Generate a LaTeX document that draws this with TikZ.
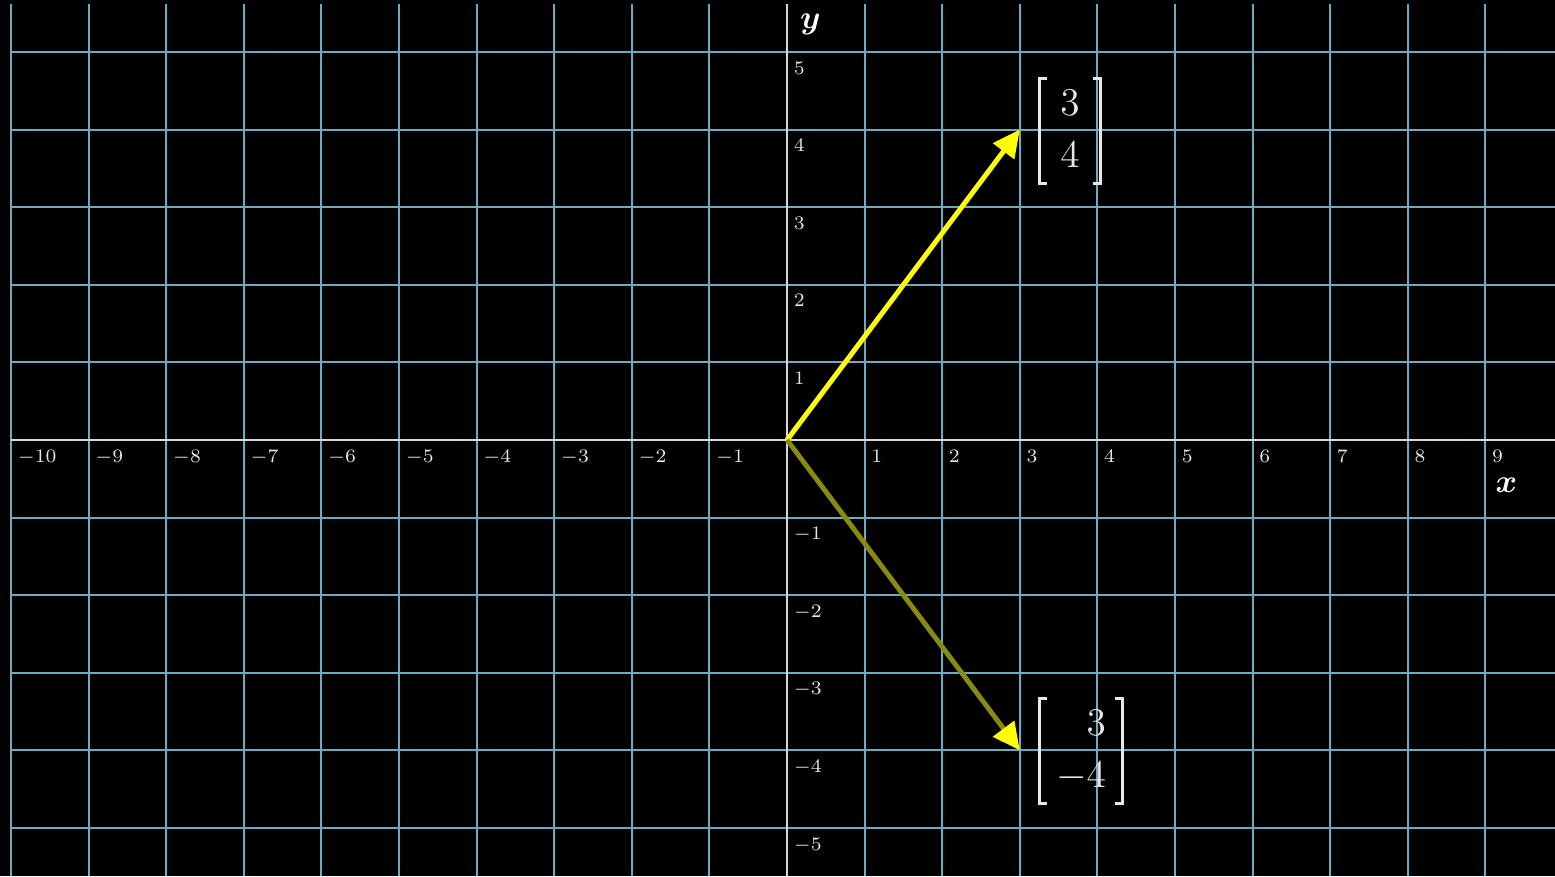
\documentclass[tikz,border=0pt]{standalone}
\usepackage{amsmath,bm}
\usetikzlibrary{arrows.meta}
\definecolor{gridblue}{RGB}{112,170,192}
\definecolor{axisgray}{RGB}{215,215,215}
\definecolor{vyellow}{RGB}{255,255,0}
\definecolor{volive}{RGB}{138,138,12}
\definecolor{txt}{RGB}{232,232,232}
\tikzset{
  gridline/.style={draw=gridblue, line width=0.75pt},
  axisline/.style={draw=axisgray, line width=1pt},
  ticklab/.style={anchor=north west, inner sep=0pt, text=txt, font=\fontsize{7}{8}\selectfont},
  axlab/.style={inner sep=0pt, text=white, font=\fontsize{13}{15}\selectfont},
  vecA/.style={draw=vyellow, line width=1.8pt, -{Triangle[length=0.35cm,width=0.33cm]}},
  vecB/.style={draw=volive, line width=1.8pt, -{Triangle[length=0.35cm,width=0.33cm,color=vyellow,fill=vyellow]}},
  matlab/.style={inner sep=0pt, text=txt, font=\fontsize{14}{18}\selectfont, minimum height=1.314cm},
  bracket/.style={draw=txt, line width=0.85pt},
}
\newcommand{\colvec}[2]{$\renewcommand{\arraystretch}{1.06}\setlength{\arraycolsep}{0pt}\begin{array}{r}#1\\#2\end{array}$}
\begin{document}
\begin{tikzpicture}
\useasboundingbox[fill=black] (-10.142,-5.619) rectangle (9.897,5.670);
% grid
\foreach \i in {-10,...,9} {\draw[gridline] (\i,-5.619) -- (\i,5.619);}
\foreach \j in {-5,...,5} {\draw[gridline] (-10,\j) -- (9.897,\j);}
% axes
\draw[axisline] (-10,0) -- (9.897,0);
\draw[axisline] (0,-5.619) -- (0,5.619);
% tick labels
\foreach \i in {-10,...,-1,1,2,...,9} {\node[ticklab] (xl\i) at (\i+0.08,-0.12) {$\i$};}
\foreach \j in {-5,...,-1,1,2,...,5} {\node[ticklab] (yl\j) at (0.08,\j-0.12) {$\j$};}
% axis names
\node[axlab] (xname) at (9.27,-0.58) {$\bm{x}$};
\node[axlab] (yname) at (0.30,5.36) {$\bm{y}$};
% vectors
\coordinate (O) at (0,0);
\coordinate (A) at (3,4);
\coordinate (B) at (3,-4);
\draw[vecA] (O) -- (A);
\draw[vecB] (O) -- (B);
% matrices
\node[matlab, minimum width=0.773cm] (mA) at (3.647,3.982) {\colvec{3}{4}};
\node[matlab, minimum width=1.057cm] (mB) at (3.789,-4.008) {\colvec{3}{-4}};
\foreach \m in {mA,mB} {
  \draw[bracket] ([xshift=0.1cm]\m.north west) -- (\m.north west) -- (\m.south west) -- ([xshift=0.1cm]\m.south west);
  \draw[bracket] ([xshift=-0.1cm]\m.north east) -- (\m.north east) -- (\m.south east) -- ([xshift=-0.1cm]\m.south east);
}
\end{tikzpicture}
\end{document}
